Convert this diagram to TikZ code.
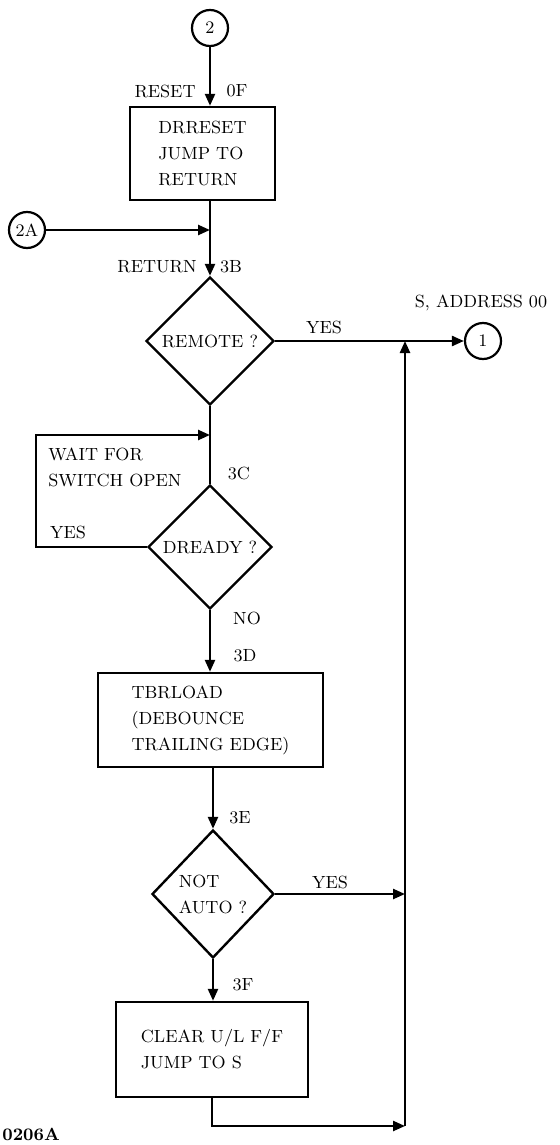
\documentclass[tikz,border=0pt]{standalone}
\usepackage{tikz}
\usetikzlibrary{shapes.geometric, arrows.meta, positioning}

\begin{document}
\begin{tikzpicture}[
  x=0.5pt, y=-0.5pt,
  every node/.style={font=\fontsize{8.8}{13}\selectfont},
  proc/.style={rectangle, draw, line width=1.2pt, align=left, inner sep=0pt},
  decision/.style={diamond, draw, line width=1.2pt, align=left, inner sep=0pt},
  conn/.style={circle, draw, line width=1.1pt, minimum size=18pt, inner sep=0pt},
  flow/.style={-{Triangle[length=6pt, width=5pt]}, line width=1.2pt},
  line/.style={line width=1.2pt},
  tag/.style={inner sep=0pt, align=left},
]
\useasboundingbox (0,0) rectangle (559,1145);

% Connectors
\node[conn] (C2)  at (210,28)  {2};
\node[conn] (C2A) at (27,230)  {2A};
\node[conn] (C1)  at (483,341) {1};

% Processes
\node[proc, minimum width=72.5pt, minimum height=46.5pt] (B0F) at (202.5,153.5) {DRRESET\\JUMP TO\\RETURN};
\node[proc, minimum width=112.5pt, minimum height=47pt] (B3D) at (210.5,720) {TBRLOAD\\(DEBOUNCE\\TRAILING EDGE)};
\node[proc, minimum width=96pt, minimum height=47.5pt] (B3F) at (212,1049.5) {CLEAR U/L F/F\\JUMP TO S};

% Decisions
\node[decision, minimum width=64pt, minimum height=64pt] (D3B) at (210,341) {REMOTE ?};
\node[decision, minimum width=62pt, minimum height=62pt] (D3C) at (210,547) {DREADY ?};
\node[decision, minimum width=61pt, minimum height=64pt] (D3E) at (213,894) {NOT\\AUTO ?};

% Junctions
\coordinate (J1) at (210,230);
\coordinate (J2) at (210,435);
\coordinate (LP) at (36,547);
\coordinate (JR) at (405,341);
\coordinate (JE) at (405,894);
\coordinate (JB) at (405,1126);

% Labels
\node[tag, anchor=east] (LRESET) at (196,91) {RESET};
\node[tag] (L0F) at (237,91) {0F};
\node[tag, anchor=east] (LRET) at (197,267) {RETURN};
\node[tag] (L3B) at (231,267) {3B};
\node[tag] (LYES1) at (324,327) {YES};
\node[tag] (LSADR) at (481,303) {S,\ ADDRESS 00};
\node[tag, anchor=north west] (LWAIT) at (48,447) {WAIT FOR\\SWITCH OPEN};
\node[tag] (LYES2) at (68,532) {YES};
\node[tag] (L3C) at (239,473) {3C};
\node[tag] (LNO) at (247,618) {NO};
\node[tag] (L3D) at (245,656) {3D};
\node[tag] (L3E) at (240,818) {3E};
\node[tag] (LYES3) at (330,882) {YES};
\node[tag] (L3F) at (243,985) {3F};
\node[tag, anchor=west, font=\bfseries\fontsize{8.8}{13}\selectfont] (LFIG) at (2,1134) {0206A};

% Flows
\draw[flow] (C2) -- (C2 |- B0F.north);
\draw[flow] (C2 |- B0F.south) -- (D3B.north);
\draw[flow] (C2A) -- (J1);
\draw[flow] (D3B.east) -- (C1.west);
\draw[line] (D3B.south) -- (D3C.north);
\draw[flow] (D3C.west) -- (LP) |- (J2);
\draw[flow] (D3C.south) -- (D3C.south |- B3D.north);
\draw[flow] (D3E.north |- B3D.south) -- (D3E.north);
\draw[flow] (D3E.east) -- (JE);
\draw[flow] (D3E.south) -- (D3E.south |- B3F.north);
\draw[flow] (B3F.south) |- (JB);
\draw[flow] (JB) -- (JR);

\end{tikzpicture}
\end{document}
